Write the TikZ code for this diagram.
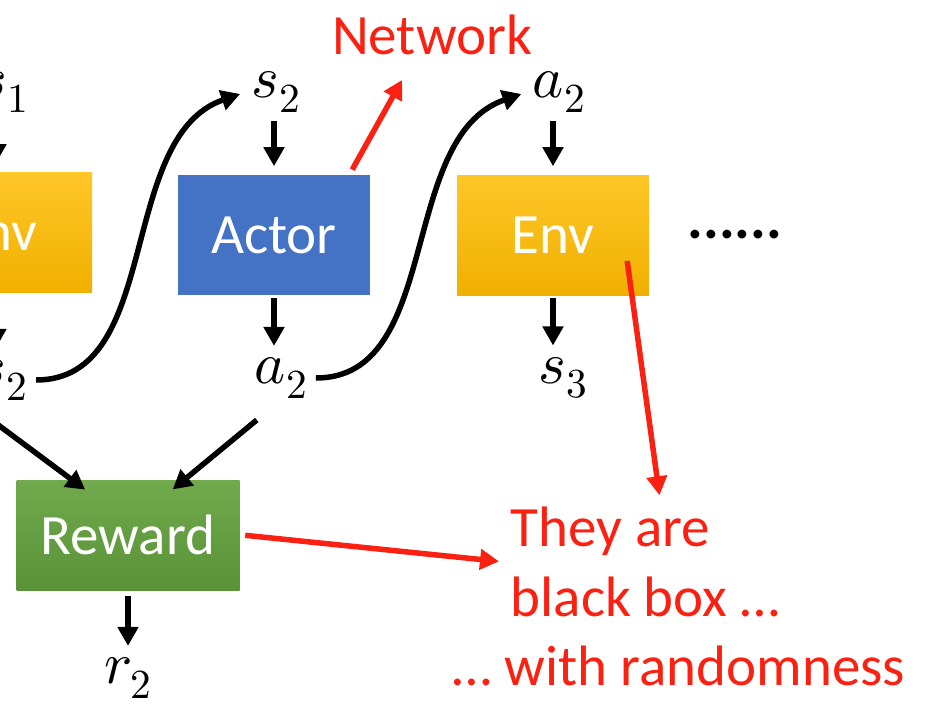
\documentclass[tikz,border=0pt]{standalone}
\usepackage{fontspec}
\usepackage{unicode-math}
\setmainfont{Carlito}
\setmathfont{Latin Modern Math}
\usetikzlibrary{arrows.meta,positioning,calc}

\definecolor{envtop}{RGB}{255,198,40}
\definecolor{envbot}{RGB}{240,176,0}
\definecolor{actorblue}{RGB}{68,114,196}
\definecolor{rewtop}{RGB}{112,170,76}
\definecolor{rewbot}{RGB}{90,146,56}
\definecolor{notered}{RGB}{250,32,18}

\tikzset{every picture/.style={line width=5.5pt}}
\tikzset{
	box/.style={minimum width=192pt, minimum height=120pt, inner sep=0pt, text=white, font=\fontsize{57}{60}\selectfont},
	envbox/.style={box, top color=envtop, bottom color=envbot, draw=none},
	actorbox/.style={box, fill=actorblue},
	rewardbox/.style={box, minimum width=223pt, minimum height=110pt, top color=rewtop, bottom color=rewbot},
	sym/.style={font=\fontsize{59}{60}\selectfont, inner sep=3pt},
	note/.style={text=notered, font=\fontsize{57}{70}\selectfont, inner sep=3pt},
	arr/.style={-{Triangle[length=19pt,width=20pt]}, line width=5.5pt, shorten >=6pt, shorten <=3pt},
	redarr/.style={arr, draw=notered}}

\begin{document}
\begin{tikzpicture}[x=1pt,y=1pt,yscale=-1]
	\useasboundingbox (0,0) rectangle (934,706);
	\clip (0,0) rectangle (934,706);

	% boxes
	\node[envbox] (env1) at (-4,232) {Env};
	\node[actorbox] (actor) at (274,235) {Actor};
	\node[envbox] (env2) at (553,235) {Env};
	\node[rewardbox] (reward) at (128,535) {Reward};

	% states, actions, reward
	\node[sym] (s1) at (4,92) {$s_1$};
	\node[sym] (s2a) at (3,380) {$s_2$};
	\node[sym] (s2b) at (276,92) {$s_2$};
	\node[sym] (a2a) at (281,378) {$a_2$};
	\node[sym] (a2b) at (559,92) {$a_2$};
	\node[sym] (s3) at (563,378) {$s_3$};
	\node[sym] (r2) at (128,678) {$r_2$};
	\node[sym] (dots) at (735,235) {\textbf{......}};

	% red notes
	\node[note] (network) at (432,35) {Network};
	\node[note, align=left, anchor=west] (blackbox) at (505,562) {They are\\black box …};
	\node[note, anchor=base west] (random) at (447,685) {… with randomness};

	% black arrows
	\draw[arr] (env1.north |- s1.south) -- (env1.north);
	\draw[arr] (env1.south) -- (env1.south |- s2a.north);
	\draw[arr] (actor.north |- s2b.south) -- (actor.north);
	\draw[arr, shorten <=0pt] (actor.south) -- (actor.south |- a2a.north);
	\draw[arr] (env2.north |- a2b.south) -- (env2.north);
	\draw[arr, shorten <=0pt] (env2.south) -- (env2.south |- s3.north);
	\draw[arr] (reward.south -| r2.north) -- (r2.north);
	\draw[arr] (s2a.east) .. controls +(130,0) and +(-130,45) .. (s2b.west);
	\draw[arr] (a2a.east) .. controls +(130,0) and +(-130,45) .. (a2b.west);
	\draw[arr] (s2a.south west) -- ($(reward.north)+(-38,16)$);
	\draw[arr] ($(a2a.south west)+(10,14)$) -- ($(reward.north)+(40,16)$);

	% red arrows
	\draw[redarr] ($(actor.north east)+(-22,0)$) -- ($(network.south)+(-27,14)$);
	\draw[redarr] ($(env2.east)+(-25,23)$) -- ([xshift=15pt]blackbox.north);
	\draw[redarr] (reward.east) -- (blackbox.west);
\end{tikzpicture}
\end{document}
